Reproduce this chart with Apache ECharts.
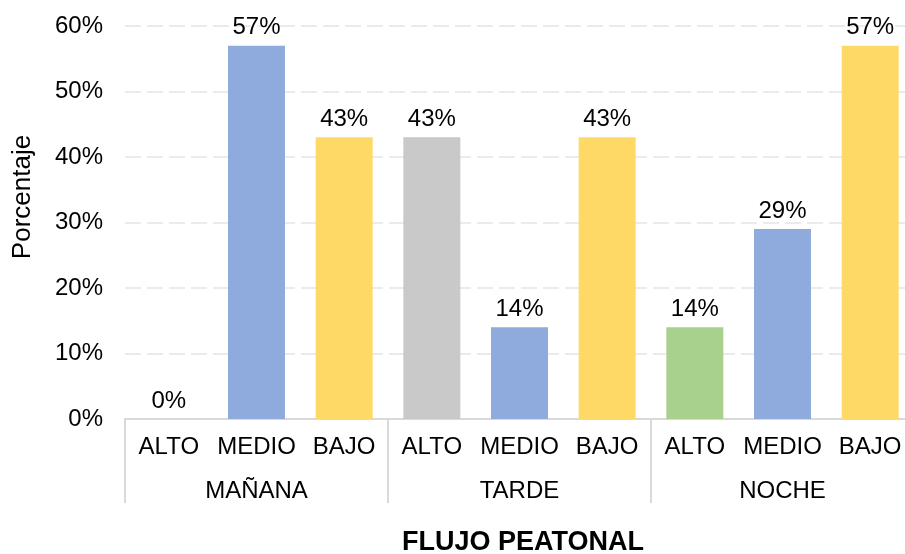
<!DOCTYPE html>
<html><head><meta charset="utf-8">
<script src="https://cdn.jsdelivr.net/npm/echarts@6/dist/echarts.min.js"></script>
<style>html,body{margin:0;padding:0;background:#fff}#c{width:905px;height:554px}</style>
</head><body><div id="c"></div>
<script>
const levels = ['ALTO','MEDIO','BAJO','ALTO','MEDIO','BAJO','ALTO','MEDIO','BAJO'];
const groups = ['MAÑANA','TARDE','NOCHE'];
const values = [0,57,43,43,14,43,14,29,57];
const barColors = ['#a9d18e','#8faadc','#ffd966','#c9c9c9','#8faadc','#ffd966','#a9d18e','#8faadc','#ffd966'];
const yTicks = [0,10,20,30,40,50,60];

const FONT = 'Liberation Sans, Arial, sans-serif';
const chart = echarts.init(document.getElementById('c'));
chart.setOption({
  animation:false,
  grid:{left:125,width:789,top:26,height:393,containLabel:false,outerBoundsMode:'none'},
  graphic:[
    {type:'text',style:{text:'FLUJO PEATONAL',font:'bold 27px '+FONT,fill:'#000',textAlign:'center',textVerticalAlign:'middle'},x:523,y:543},
    {type:'text',style:{text:'Porcentaje',font:'26px '+FONT,fill:'#000',textAlign:'center',textVerticalAlign:'middle'},x:23,y:197,rotation:Math.PI/2}
  ],
  xAxis:[
    {type:'category',data:levels,position:'bottom',
     axisLine:{lineStyle:{color:'#d9d9d9',width:2}},axisTick:{show:false},
     axisLabel:{color:'#000',fontSize:24,fontFamily:FONT,margin:16,interval:0}},
    {type:'category',data:groups,position:'bottom',
     axisLine:{show:false},
     axisTick:{show:true,length:84,lineStyle:{color:'#d9d9d9',width:2}},
     axisLabel:{color:'#000',fontSize:24,fontFamily:FONT,margin:60,interval:0}}
  ],
  yAxis:{type:'value',min:yTicks[0],max:yTicks[yTicks.length-1],interval:10,
    axisLine:{show:false},axisTick:{show:false},
    axisLabel:{formatter:'{value}%',color:'#000',fontSize:24,fontFamily:FONT,margin:22},
    splitLine:{lineStyle:{color:'#ebebeb',width:2,type:[16,6]}}},
  series:[{type:'bar',xAxisIndex:0,barWidth:'65%',
    data:values.map((v,i)=>({value:v,itemStyle:{color:barColors[i]}})),
    label:{show:true,position:'top',formatter:'{c}%',color:'#000',fontSize:24,fontFamily:FONT,distance:6}}]
});
</script></body></html>
